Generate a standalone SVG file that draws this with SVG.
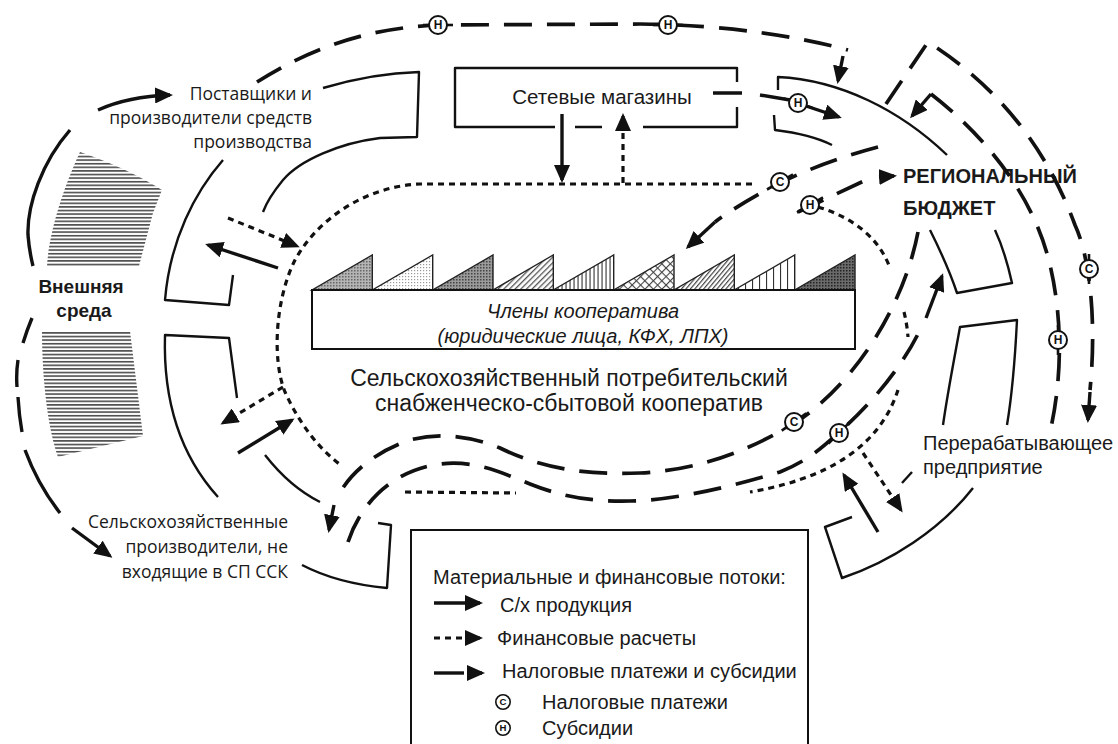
<svg xmlns="http://www.w3.org/2000/svg" width="1118" height="744" viewBox="0 0 1118 744">
<defs>
<style>
.ln{fill:none;stroke:#111;stroke-width:2.4;stroke-linejoin:round}
.sl{fill:none;stroke:#111;stroke-width:3.4}
.ar{fill:none;stroke:#111;stroke-width:3.4;marker-end:url(#ah)}
.dl{fill:none;stroke:#111;stroke-width:3.7;stroke-dasharray:28 15}
.dt{fill:none;stroke:#111;stroke-width:3.2;stroke-dasharray:6 5}
.dta{fill:none;stroke:#111;stroke-width:3.2;stroke-dasharray:6 5;marker-end:url(#ah)}
.tick{stroke:#111;stroke-width:2.6}
.sans{font-family:"Liberation Sans",Arial,sans-serif;fill:#1a1a1a}
.os{font-family:"Open Sans","Noto Sans",sans-serif;fill:#1a1a1a;font-size:17.5px}
.tri{stroke:#222;stroke-width:1.4}
</style>
<marker id="ah" viewBox="0 0 18 16" refX="15" refY="8" markerWidth="18" markerHeight="16" markerUnits="userSpaceOnUse" orient="auto">
<path d="M0,0 L18,8 L0,16 Z" fill="#111"/>
</marker>
<pattern id="hz" width="8" height="3.6" patternUnits="userSpaceOnUse"><rect y="0.9" width="8" height="1.6" fill="#4a4a4a"/></pattern>
<pattern id="t1" width="3" height="3" patternUnits="userSpaceOnUse"><rect width="3" height="3" fill="#b4b4b4"/><rect width="1.5" height="1.5" fill="#666"/></pattern>
<pattern id="t2" width="3" height="3" patternUnits="userSpaceOnUse"><rect width="3" height="3" fill="#fff"/><rect width="1.2" height="1.2" fill="#9a9a9a"/></pattern>
<pattern id="t3" width="3" height="3" patternUnits="userSpaceOnUse"><rect width="3" height="3" fill="#9a9a9a"/><rect width="1.5" height="1.5" fill="#444"/></pattern>
<pattern id="t4" width="4" height="4" patternUnits="userSpaceOnUse" patternTransform="rotate(45)"><rect width="4" height="4" fill="#fff"/><rect width="1.3" height="4" fill="#555"/></pattern>
<pattern id="t5" width="4" height="4" patternUnits="userSpaceOnUse"><rect width="4" height="4" fill="#fff"/><rect x="1.5" width="1.1" height="4" fill="#333"/></pattern>
<pattern id="t6" width="6" height="6" patternUnits="userSpaceOnUse" patternTransform="rotate(45)"><rect width="6" height="6" fill="#fff"/><rect width="1.1" height="6" fill="#444"/><rect width="6" height="1.1" fill="#444"/></pattern>
<pattern id="t7" width="3.4" height="3.4" patternUnits="userSpaceOnUse" patternTransform="rotate(40)"><rect width="3.4" height="3.4" fill="#fff"/><rect width="1.2" height="3.4" fill="#444"/></pattern>
<pattern id="t8" width="7" height="4" patternUnits="userSpaceOnUse"><rect width="7" height="4" fill="#fff"/><rect x="3" width="1.1" height="4" fill="#333"/></pattern>
<pattern id="t9" width="3" height="3" patternUnits="userSpaceOnUse"><rect width="3" height="3" fill="#6a6a6a"/><rect width="1.5" height="1.5" fill="#222"/></pattern>
<g id="mC"><circle r="9" fill="#fff" stroke="#111" stroke-width="2"/><text y="4.2" text-anchor="middle" font-family="Liberation Sans, Arial, sans-serif" font-size="12" font-weight="bold" fill="#111">С</text></g>
<g id="mH"><circle r="9" fill="#fff" stroke="#111" stroke-width="2"/><text y="4.2" text-anchor="middle" font-family="Liberation Sans, Arial, sans-serif" font-size="12" font-weight="bold" fill="#111">Н</text></g>
</defs>

<rect width="1118" height="744" fill="#fff"/>

<!-- external environment -->
<g id="ext-env">
<path d="M 80,152 C 110,162 140,176 162,190 L 153,213 L 139,266 L 47,267 C 48,240 60,195 80,152 Z" fill="url(#hz)"/>
<path d="M 42,331 L 130,331 L 143,436 L 58,457 C 48,430 42,380 42,331 Z" fill="url(#hz)"/>
<text class="sans" x="81" y="293" font-size="19" font-weight="bold" text-anchor="middle">Внешняя</text>
<text class="sans" x="84" y="317" font-size="19" font-weight="bold" text-anchor="middle">среда</text>
</g>

<!-- suppliers sector -->
<g id="suppliers">
<path class="ln" d="M 223,160 C 195,192 170,240 165,300 L 229,305 L 233,275"/>
<path class="ln" d="M 323,88 C 350,80 380,73 419,72 L 417,137 L 380,138 C 340,143 300,160 283,180 C 274,191 267,201 263,212"/>
<text class="os" text-anchor="end"><tspan x="312" y="100">Поставщики и</tspan><tspan x="312" y="124">производители средств</tspan><tspan x="312" y="148">производства</tspan></text>
</g>

<!-- agricultural producers outside the cooperative -->
<g id="producers">
<path class="ln" d="M 218,497 C 180,455 163,400 165,335 L 229,338 L 237,398"/>
<path class="ln" d="M 265,455 C 283,478 300,492 320,502"/>
<path class="ln" d="M 378,523 L 391,525 L 387,588 C 355,585 325,577 302,565"/>
<text class="os" text-anchor="end"><tspan x="288" y="528">Сельскохозяйственные</tspan><tspan x="288" y="553">производители, не</tspan><tspan x="288" y="578">входящие в СП ССК</tspan></text>
</g>

<!-- retail chains -->
<g id="retail">
<path class="ln" d="M 737,82 L 737,68 L 455,68 L 455,127 L 555,127 M 575,127 L 602,127 M 643,127 L 737,127 L 737,107"/>
<text class="sans" x="602" y="104" font-size="20.5" text-anchor="middle">Сетевые магазины</text>
</g>

<!-- regional budget -->
<g id="budget">
<path class="ln" d="M 778,90 L 778,77 C 840,80 900,110 947,155"/>
<path class="ln" d="M 774,115 L 775,130 C 800,133 818,138 832,145"/>
<path class="ln" d="M 930,230 C 940,250 950,272 957,293 L 1012,283 C 1008,265 1002,245 995,230"/>
<text class="sans" x="903" y="183" font-size="20" font-weight="bold">РЕГИОНАЛЬНЫЙ</text>
<text class="sans" x="903" y="215" font-size="20" font-weight="bold">БЮДЖЕТ</text>
</g>

<!-- processing enterprise -->
<g id="processing">
<path class="ln" d="M 943,425 C 948,390 955,355 960,327 L 1017,320 C 1015,360 1012,395 1007,425"/>
<path class="ln" d="M 973,488 C 940,530 890,562 842,578 L 825,527 L 852,517"/>
<path class="ln" d="M 902,483 L 912,472"/>
<text class="sans" x="923" y="450" font-size="20">Перерабатывающее</text>
<text class="sans" x="923" y="474" font-size="20">предприятие</text>
</g>

<!-- cooperative: financial contour and title -->
<g id="coop">
<path class="dt" d="M 752,184 L 420,184 C 370,186 320,215 295,260 C 275,300 272,360 285,392 C 300,425 320,450 342,466"/>
<path class="dt" d="M 405,492 L 516,493"/>
<path class="dt" d="M 818,207 C 855,218 880,240 890,268"/>
<path class="dt" d="M 904,312 Q 907,324 908,337"/>
<path class="dt" d="M 898,390 C 885,430 850,475 750,492"/>
<text class="sans" x="569" y="386" font-size="23" text-anchor="middle">Сельскохозяйственный потребительский</text>
<text class="sans" x="569" y="411" font-size="23" text-anchor="middle">снабженческо-сбытовой кооператив</text>
</g>

<!-- cooperative members -->
<g id="members">
<polygon class="tri" points="312,290 372.3,290 372.3,255" fill="url(#t1)"/>
<polygon class="tri" points="372.3,290 432.7,290 432.7,255" fill="url(#t2)"/>
<polygon class="tri" points="432.7,290 493,290 493,255" fill="url(#t3)"/>
<polygon class="tri" points="493,290 553.3,290 553.3,255" fill="url(#t4)"/>
<polygon class="tri" points="553.3,290 613.7,290 613.7,255" fill="url(#t5)"/>
<polygon class="tri" points="613.7,290 674,290 674,255" fill="url(#t6)"/>
<polygon class="tri" points="674,290 734.3,290 734.3,255" fill="url(#t7)"/>
<polygon class="tri" points="734.3,290 794.7,290 794.7,255" fill="url(#t8)"/>
<polygon class="tri" points="794.7,290 855,290 855,255" fill="url(#t9)"/>
<rect x="312" y="290" width="543" height="59" fill="#fff" stroke="#111" stroke-width="2"/>
<text class="sans" x="583" y="318" font-size="20" font-style="italic" text-anchor="middle">Члены кооператива</text>
<text class="sans" x="583" y="343" font-size="20" font-style="italic" text-anchor="middle">(юридические лица, КФХ, ЛПХ)</text>
</g>

<!-- flows -->
<g id="flows">
<!-- outer loop around the external environment -->
<path class="ar" d="M 98,110 C 118,101 140,96 170,95"/>
<path class="sl" d="M 70,130 C 42,162 27,205 28,235 C 29,248 31,258 33,266"/>
<path class="sl" d="M 32,318 Q 27,330 23,343 M 18,360 Q 16,373 17,387 M 18,397 Q 19,415 22,432 M 25,450 Q 38,485 60,513"/>
<path class="ar" d="M 72,528 L 110,556"/>

<!-- subsidies along the top -->
<path class="dl" d="M 257,82 C 320,42 380,27 440,25 L 640,24 C 730,25 800,37 848,50"/>
<path class="ar" d="M 843,56 L 838,81"/>

<!-- retail chains to budget -->
<path class="sl" d="M 713,93 L 742,93 M 760,95 L 790,100"/>
<path class="ar" d="M 806,106 L 839,117"/>

<!-- retail chains and cooperative -->
<path class="ar" d="M 562,114 L 562,180"/>
<path class="dta" d="M 623,183 L 623,116"/>

<!-- budget and members -->
<path class="dl" d="M 878,147 C 840,157 800,172 770,188 C 750,199 728,212 715,222"/>
<path class="ar" d="M 715,222 L 688,247"/>
<path class="dl" d="M 798,212 L 866,180"/>
<path class="ar" d="M 879,177 L 894,176"/>

<!-- suppliers and producers exchange -->
<path class="dta" d="M 228,218 L 297,246"/>
<path class="ar" d="M 278,268 L 208,245"/>
<path class="dta" d="M 283,387 L 223,423"/>
<path class="ar" d="M 238,453 L 292,420"/>

<!-- processing enterprise exchange -->
<path class="ar" d="M 878,532 L 844,475"/>
<path class="dta" d="M 863,453 L 901,510"/>

<!-- tax and subsidy waves under the cooperative -->
<path class="dl" d="M 918,232 C 905,300 860,380 795,423 C 750,450 700,470 640,473 C 590,475 545,470 500,448 C 470,436 440,432 410,440 C 380,450 350,470 336,500"/>
<path class="ar" d="M 334,505 L 329,530"/>
<path class="dl" d="M 348,542 C 362,500 395,470 440,464 C 475,460 500,472 530,484 C 560,496 590,502 630,501 C 680,500 740,484 780,472 C 810,460 825,445 845,427 C 880,395 905,360 918,334"/>
<path class="ar" d="M 926,318 L 942,276"/>

<!-- budget and processing enterprise -->
<path class="dl" d="M 886,104 L 928,42 C 980,75 1040,130 1075,225 C 1092,262 1096,330 1090,390"/>
<path class="ar" d="M 1090,392 L 1088,420"/>
<path class="ar" d="M 931,94 L 912,116"/>
<path class="dl" d="M 931,94 C 990,140 1035,200 1050,265 C 1063,320 1062,380 1050,432"/>

<!-- payment marks -->
<g transform="translate(438,25)"><line class="tick" x1="-15" x2="15"/><use href="#mH"/></g>
<g transform="translate(668,25)"><line class="tick" x1="-15" x2="15"/><use href="#mH"/></g>
<g transform="translate(798,103)"><line class="tick" x1="-15" x2="15" transform="rotate(18)"/><use href="#mH"/></g>
<g transform="translate(780,182)"><line class="tick" x1="-15" x2="15" transform="rotate(-30)"/><use href="#mC"/></g>
<g transform="translate(810,205)"><line class="tick" x1="-15" x2="15" transform="rotate(-30)"/><use href="#mH"/></g>
<g transform="translate(1089,269)"><line class="tick" x1="-15" x2="15" transform="rotate(90)"/><use href="#mC"/></g>
<g transform="translate(1058,340)"><line class="tick" x1="-15" x2="15" transform="rotate(90)"/><use href="#mH"/></g>
<g transform="translate(794,422)"><line class="tick" x1="-15" x2="15" transform="rotate(-35)"/><use href="#mC"/></g>
<g transform="translate(839,433)"><line class="tick" x1="-15" x2="15" transform="rotate(-45)"/><use href="#mH"/></g>
</g>

<!-- legend -->
<g id="legend">
<rect x="411" y="530" width="397" height="230" fill="#fff" stroke="#111" stroke-width="2"/>
<text class="sans" x="433" y="584" font-size="20">Материальные и финансовые потоки:</text>
<path class="ar" d="M 434,603 L 480,603"/>
<text class="sans" x="500" y="612" font-size="20">С/х продукция</text>
<path class="dta" d="M 434,638 L 480,638"/>
<text class="sans" x="497" y="645" font-size="20">Финансовые расчеты</text>
<path class="sl" d="M 434,673 L 464,673"/>
<path class="ar" d="M 470,673 L 482,673"/>
<text class="sans" x="502" y="678" font-size="20">Налоговые платежи и субсидии</text>
<use href="#mC" transform="translate(503,702) scale(0.8)"/>
<text class="sans" x="542" y="709" font-size="20">Налоговые платежи</text>
<use href="#mH" transform="translate(503,728) scale(0.8)"/>
<text class="sans" x="542" y="735" font-size="20">Субсидии</text>
</g>
</svg>
